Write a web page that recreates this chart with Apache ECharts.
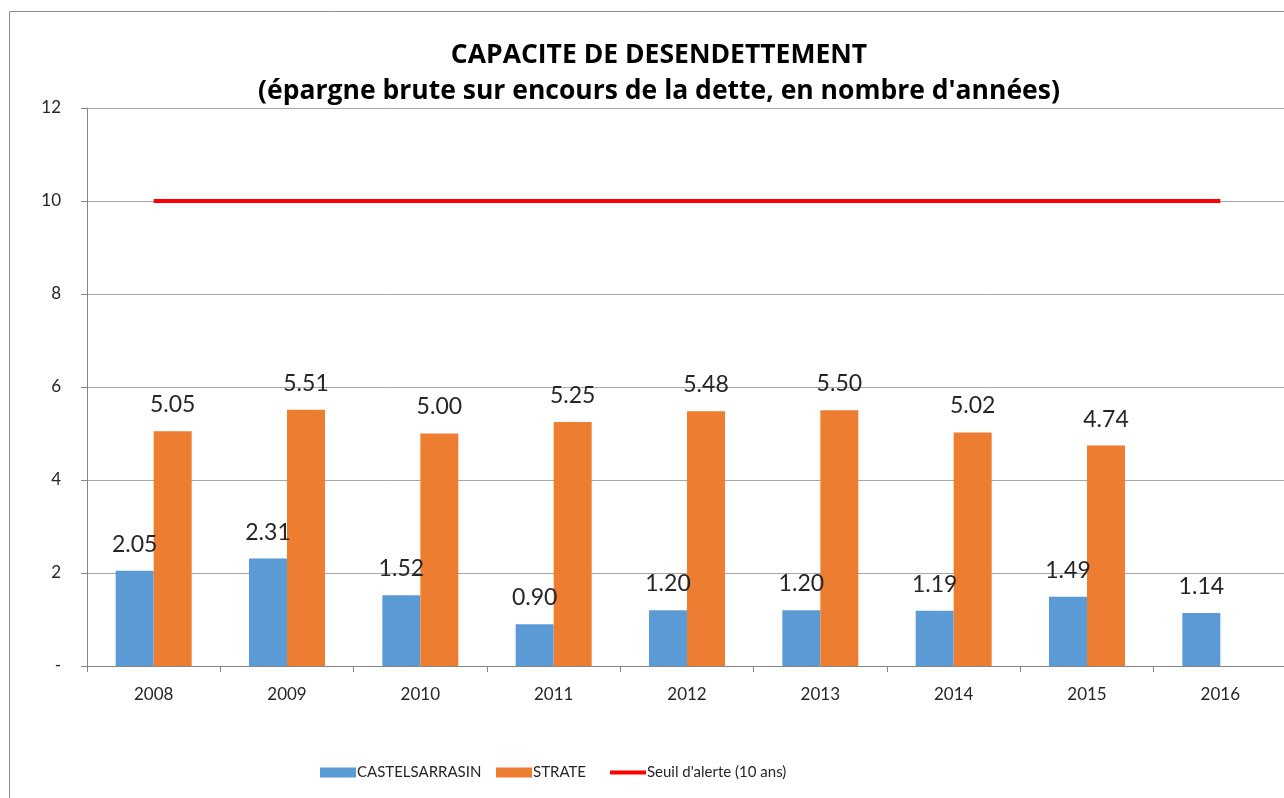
<!DOCTYPE html>
<html>
<head>
<meta charset="utf-8">
<script src="https://cdn.jsdelivr.net/npm/echarts@6/dist/echarts.min.js"></script>
<style>html,body{margin:0;padding:0;background:#fff;}#c{width:1284px;height:798px;}</style>
</head>
<body>
<div id="c"></div>
<script>
const years = ['2008','2009','2010','2011','2012','2013','2014','2015','2016'];
const castelsarrasin = [2.05, 2.31, 1.52, 0.90, 1.20, 1.20, 1.19, 1.49, 1.14];
const strate = [5.05, 5.51, 5.00, 5.25, 5.48, 5.50, 5.02, 4.74, null];
const seuil = [10, 10, 10, 10, 10, 10, 10, 10, 10];
const seriesNames = ['CASTELSARRASIN', 'STRATE', "Seuil d'alerte (10 ans)"];
const titleLines = ['CAPACITE DE DESENDETTEMENT', "(épargne brute sur encours de la dette, en nombre d'années)"];

const FONT = 'Lato, "Open Sans", sans-serif';
const chart = echarts.init(document.getElementById('c'));
const barLabel = {
  show: true, position: 'top', distance: 15,
  fontFamily: FONT, fontSize: 23, color: '#262626',
  formatter: p => p.value == null ? '' : Number(p.value).toFixed(2)
};
const legendBase = {
  top: 760, itemWidth: 36, itemHeight: 10, itemGap: 0,
  textStyle: { fontFamily: FONT, fontSize: 15, color: '#262626', padding: [0,0,0,-4] }
};
chart.setOption({
  animation: false,
  backgroundColor: '#fff',
  graphic: [{
    type: 'rect', silent: true,
    shape: { x: 9.5, y: 11.5, width: 1300, height: 800 },
    style: { fill: 'none', stroke: '#8c8c8c', lineWidth: 1 }
  }],
  title: {
    text: titleLines.join('\n'),
    left: 654, top: 32, textAlign: 'center',
    textStyle: { fontFamily: '"Open Sans", sans-serif', fontSize: 26.5, fontWeight: 'bold', color: '#000', lineHeight: 36 }
  },
  legend: [
    Object.assign({ left: 315, data: [{ name: seriesNames[0], icon: 'rect' }] }, legendBase),
    Object.assign({ left: 491, data: [{ name: seriesNames[1], icon: 'rect' }] }, legendBase),
    Object.assign({ left: 605, data: [{ name: seriesNames[2], icon: 'path://M0,0 L36,0 L36,4 L0,4 Z' }] }, legendBase)
  ],
  grid: { left: 87, top: 108, width: 1200, height: 558, outerBoundsMode: 'none' },
  xAxis: {
    type: 'category', data: years,
    axisLine: { lineStyle: { color: '#868686', width: 1 } },
    axisTick: { show: true, length: 6, lineStyle: { color: '#868686' } },
    axisLabel: { fontFamily: FONT, fontSize: 17, color: '#262626', margin: 20 }
  },
  yAxis: {
    type: 'value', min: 0, max: 12, interval: 2,
    axisLine: { show: true, lineStyle: { color: '#868686', width: 1 } },
    axisTick: { show: true, length: 6, lineStyle: { color: '#868686' } },
    splitLine: { lineStyle: { color: '#a6a6a6', width: 1 } },
    axisLabel: { fontFamily: FONT, fontSize: 17, color: '#262626', margin: 26,
      formatter: v => v === 0 ? '-' : String(v) }
  },
  series: [
    { name: seriesNames[0], type: 'bar', data: castelsarrasin, barWidth: 38, barGap: '0%',
      itemStyle: { color: '#5B9BD5' }, label: barLabel },
    { name: seriesNames[1], type: 'bar', data: strate, barWidth: 38, barGap: '0%',
      itemStyle: { color: '#ED7D31' }, label: barLabel },
    { name: seriesNames[2], type: 'line', data: seuil, symbol: 'none',
      lineStyle: { color: '#FF0000', width: 4 }, itemStyle: { color: '#FF0000' } }
  ]
});
</script>
</body>
</html>
